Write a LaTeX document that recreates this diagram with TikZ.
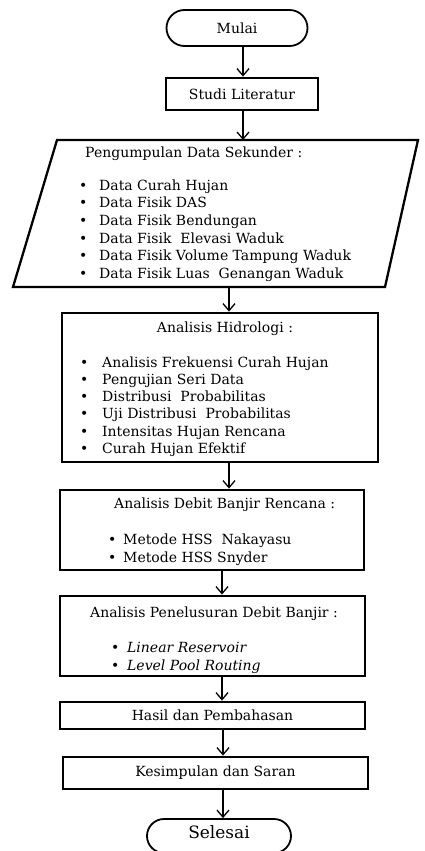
\documentclass[tikz,border=0pt]{standalone}
\usepackage{fontspec}
\setmainfont{DejaVu Serif}
\usepackage{tikz}
\usetikzlibrary{arrows.meta}
\usetikzlibrary{shapes.misc}

\begin{document}
\begin{tikzpicture}[%
x=1pt, y=-1pt, >={Straight Barb[length=7pt,width=12pt]},
font={\fontsize{14}{17.6}\selectfont},
terminal/.style={draw, shape=rounded rectangle, line width=1.8pt, minimum width=141pt, minimum height=36pt, inner sep=0pt},
process/.style={draw, shape=rectangle, line width=2.8pt, inner sep=0pt},
title/.style={anchor=base west, inner sep=0pt},
items/.style={anchor=north west, align=left, inner sep=0pt},
flow/.style={->, line width=1.3pt}
]
\useasboundingbox (0,0) rectangle (424,851);
\node[terminal] (mulai) at (237,28) {Mulai};
\node[process, minimum width=152pt, minimum height=32pt] (studi) at (242,94) {Studi Literatur};
\coordinate (pnw) at (57,140);
\coordinate (pne) at (418,140);
\coordinate (pse) at (385,287);
\coordinate (psw) at (13,287);
\draw[line width=2.3pt] (pnw) -- (pne) -- (pse) -- (psw) -- cycle;
\node[title] (tdata) at (85,157.5) {Pengumpulan Data Sekunder :};
\node[items] (ldata) at (79,179.4) {\makebox[20pt][l]{\textbullet}Data Curah Hujan\\
\makebox[20pt][l]{\textbullet}Data Fisik DAS\\
\makebox[20pt][l]{\textbullet}Data Fisik Bendungan\\
\makebox[20pt][l]{\textbullet}Data Fisik\ \ Elevasi Waduk\\
\makebox[20pt][l]{\textbullet}Data Fisik Volume Tampung Waduk\\
\makebox[20pt][l]{\textbullet}Data Fisik Luas\ \ Genangan Waduk};
\node[process, minimum width=316pt, minimum height=149pt] (hidro) at (220,387.5) {};
\node[anchor=base, inner sep=0pt] (thidro) at (225,332) {Analisis Hidrologi :};
\node[items, font={\fontsize{14}{17.2}\selectfont}] (lhidro) at (80,356.4) {\makebox[22pt][l]{\textbullet}Analisis Frekuensi Curah Hujan\\
\makebox[22pt][l]{\textbullet}Pengujian Seri Data\\
\makebox[22pt][l]{\textbullet}Distribusi\ \ Probabilitas\\
\makebox[22pt][l]{\textbullet}Uji Distribusi\ \ Probabilitas\\
\makebox[22pt][l]{\textbullet}Intensitas Hujan Rencana\\
\makebox[22pt][l]{\textbullet}Curah Hujan Efektif};
\node[process, minimum width=304pt, minimum height=80pt] (debit) at (212,530) {};
\node[title] (tdebit) at (114,508) {Analisis Debit Banjir Rencana :};
\node[items, font={\fontsize{14}{18}\selectfont}] (ldebit) at (108,533.4) {\makebox[15pt][l]{\textbullet}Metode HSS\ \ Nakayasu\\
\makebox[15pt][l]{\textbullet}Metode HSS Snyder};
\node[process, minimum width=305pt, minimum height=80pt] (telusur) at (212.5,636) {};
\node[title] (ttelusur) at (90,617) {Analisis Penelusuran Debit Banjir :};
\node[items, font={\fontsize{14}{18}\selectfont}] (ltelusur) at (111,642.4) {\makebox[16pt][l]{\textbullet}\textit{Linear Reservoir}\\
\makebox[16pt][l]{\textbullet}\textit{Level Pool Routing}};
\node[process, minimum width=305pt, minimum height=27pt] (hasil) at (212.5,715.5) {Hasil dan Pembahasan};
\node[process, minimum width=305pt, minimum height=32pt] (simpul) at (215.5,773) {Kesimpulan dan Saran};
\node[terminal, minimum width=144pt, minimum height=34pt, text depth=8pt, font={\fontsize{17}{20}\selectfont}] (selesai) at (219,836) {Selesai};
\draw[flow] ([xshift=6pt]mulai.south) -- ([xshift=6pt]mulai.south |- studi.north);
\draw[flow] ([xshift=1pt]studi.south) -- ([xshift=1pt]studi.south |- pnw);
\coordinate (pout) at (229,287);
\draw[flow] (pout) -- (pout |- hidro.north);
\draw[flow] ([xshift=9pt]hidro.south) -- ([xshift=9pt]hidro.south |- debit.north);
\draw[flow] ([xshift=10pt]debit.south) -- ([xshift=10pt]debit.south |- telusur.north);
\draw[flow] ([xshift=9.5pt]telusur.south) -- ([xshift=9.5pt]telusur.south |- hasil.north);
\draw[flow] ([xshift=10.5pt]hasil.south) -- ([xshift=10.5pt]hasil.south |- simpul.north);
\draw[flow] ([xshift=7.5pt]simpul.south) -- ([xshift=7.5pt]simpul.south |- selesai.north);
\end{tikzpicture}
\end{document}
